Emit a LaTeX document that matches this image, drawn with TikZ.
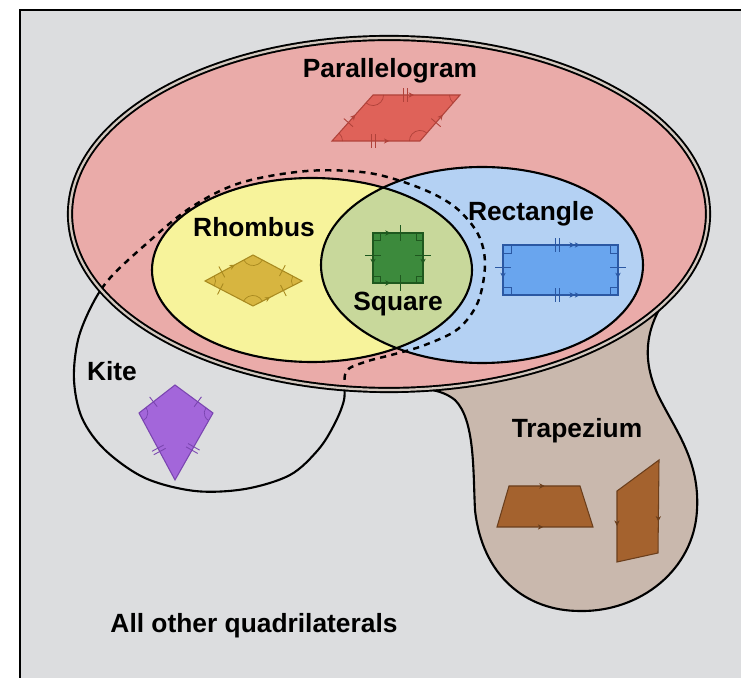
\documentclass[tikz,border=0pt]{standalone}
\usepackage{fontspec}
\setmainfont{Liberation Sans}
\usetikzlibrary{calc,angles,arrows.meta,decorations.markings}

\definecolor{panelgray}{HTML}{DCDDDF}
\definecolor{gapcol}{HTML}{D3C8BF}
\definecolor{pinkfill}{HTML}{EAABA9}
\definecolor{yellowfill}{HTML}{F7F39B}
\definecolor{bluefill}{HTML}{B4D1F3}
\definecolor{greenfill}{HTML}{C8D89B}
\definecolor{tanfill}{HTML}{C9B8AD}
\definecolor{parfill}{HTML}{DF6259}
\definecolor{parline}{HTML}{B0423A}
\definecolor{rhofill}{HTML}{D7B540}
\definecolor{rholine}{HTML}{A8891F}
\definecolor{sqfill}{HTML}{3C8A3C}
\definecolor{sqline}{HTML}{1E581E}
\definecolor{recfill}{HTML}{69A5EE}
\definecolor{recline}{HTML}{2B58A3}
\definecolor{kitefill}{HTML}{A366DA}
\definecolor{kiteline}{HTML}{7A45B0}
\definecolor{trapfill}{HTML}{A4622E}
\definecolor{trapline}{HTML}{6A3E1C}

\tikzset{
  setline/.style={draw=black,line width=1.2pt},
  lbl/.style={font=\bfseries\fontsize{15}{18}\selectfont,anchor=base,inner sep=0pt},
  shapeline/.style={line width=0.6pt},
  onetick/.style={postaction={decorate,decoration={markings,mark=at position #1 with {\draw[line width=0.5pt] (0,-3.5pt) -- (0,3.5pt);}}}},
  longtick/.style={postaction={decorate,decoration={markings,mark=at position #1 with {\draw[line width=0.5pt] (0,-4.5pt) -- (0,4.5pt);}}}},
  twotick/.style={postaction={decorate,decoration={markings,mark=at position #1 with {\draw[line width=0.5pt] (-1.1pt,-3.8pt) -- (-1.1pt,3.8pt) (1.1pt,-3.8pt) -- (1.1pt,3.8pt);}}}},
  onearr/.style={postaction={decorate,decoration={markings,mark=at position #1 with {\arrow{Stealth[length=3pt,width=3pt]}}}}},
  twoarr/.style={postaction={decorate,decoration={markings,mark=at position #1 with {\arrow{Stealth[length=3pt,width=3pt]Stealth[length=3pt,width=3pt]}}}}},
  anglemark/.style={draw,angle radius=6pt,line width=0.4pt},
}

\begin{document}
\begin{tikzpicture}[x=0.02cm,y=-0.02cm]
\useasboundingbox (0,0) rectangle (741,678);
\fill[panelgray] (20,10) rectangle (741,678); % panel
\draw[line width=1.2pt] (20,678) -- (20,10) -- (741,10); % panel edge

% trapezium region
\filldraw[fill=tanfill,setline] (665,300) .. controls (645,330) and (642,360) .. (658,395) .. controls (675,430) and (700,460) .. (697,510) .. controls (694,570) and (640,612) .. (580,611) .. controls (525,611) and (482,575) .. (475,510) .. controls (473,470) and (475,420) .. (455,400) .. controls (440,388) and (420,388) .. (400,388) -- (400,300) -- cycle;

% kite region
\draw[setline] plot[smooth cycle,tension=0.55] coordinates {(346,372) (344,400) (334,425) (318,450) (290,475) (245,489) (195,491) (145,478) (105,450) (82,418) (74,380) (78,340) (92,305) (110,278) (145,245) (190,208) (240,183) (307,171) (369,173) (420,188) (455,207) (478,234) (485,264) (478,302) (458,329) (425,345) (395,354) (365,362)};

% parallelogram, rhombus, rectangle, square regions
\fill[pinkfill] (389,214) ellipse [x radius=319,y radius=176];
\fill[yellowfill] (312,270) ellipse [x radius=160,y radius=92];
\fill[bluefill] (482,265) ellipse [x radius=161,y radius=98];
\begin{scope}
\clip (312,270) ellipse [x radius=160,y radius=92];
\fill[greenfill] (482,265) ellipse [x radius=161,y radius=98];
\end{scope}
\draw[setline] (312,270) ellipse [x radius=160,y radius=92]; % rhombus set
\draw[setline] (482,265) ellipse [x radius=161,y radius=98]; % rectangle set
\begin{scope}
\clip (389,214) ellipse [x radius=317,y radius=174];
\draw[black,line width=1.4pt,dash pattern=on 3.5pt off 3pt] plot[smooth cycle,tension=0.55] coordinates {(346,372) (344,400) (334,425) (318,450) (290,475) (245,489) (195,491) (145,478) (105,450) (82,418) (74,380) (78,340) (92,305) (110,278) (145,245) (190,208) (240,183) (307,171) (369,173) (420,188) (455,207) (478,234) (485,264) (478,302) (458,329) (425,345) (395,354) (365,362)};
\end{scope}
\draw[black,line width=1.1pt,double=gapcol,double distance=1.3pt] (389,214) ellipse [x radius=319,y radius=176]; % parallelogram set

% parallelogram
\coordinate (P1) at (332,141);
\coordinate (P2) at (373,95);
\coordinate (P3) at (460,95);
\coordinate (P4) at (420,141);
\filldraw[fill=parfill,draw=parline,shapeline] (P1) -- (P2) -- (P3) -- (P4) -- cycle;
\path[parline,twotick=0.37,onearr=0.47] (P2) -- (P3);
\path[parline,twotick=0.47,onearr=0.65] (P1) -- (P4);
\path[parline,onetick=0.4,onearr=0.57] (P1) -- (P2);
\path[parline,onetick=0.4,onearr=0.57] (P4) -- (P3);
\pic[parline,anglemark] {angle=P4--P1--P2};
\pic[parline,anglemark] {angle=P1--P2--P3};
\pic[parline,anglemark] {angle=P2--P3--P4};
\pic[parline,anglemark] {angle=P3--P4--P1};

% rhombus
\coordinate (H1) at (205,281);
\coordinate (H2) at (253,255);
\coordinate (H3) at (302,281);
\coordinate (H4) at (253,306);
\filldraw[fill=rhofill,draw=rholine,shapeline] (H1) -- (H2) -- (H3) -- (H4) -- cycle;
\path[rholine,onetick=0.35,onearr=0.62] (H1) -- (H2);
\path[rholine,onetick=0.6] (H2) -- (H3);
\path[rholine,onetick=0.32] (H1) -- (H4);
\path[rholine,onetick=0.62,onearr=0.35] (H4) -- (H3);
\pic[rholine,anglemark] {angle=H4--H1--H2};
\pic[rholine,anglemark] {angle=H1--H2--H3};
\pic[rholine,anglemark] {angle=H2--H3--H4};
\pic[rholine,anglemark] {angle=H3--H4--H1};

% square
\coordinate (S1) at (373,233);
\coordinate (S2) at (423,233);
\coordinate (S3) at (423,283);
\coordinate (S4) at (373,283);
\filldraw[fill=sqfill,draw=sqline,shapeline] (S1) -- (S2) -- (S3) -- (S4) -- cycle;
\path[sqline,longtick=0.55,onearr=0.35] (S1) -- (S2);
\path[sqline,longtick=0.55,onearr=0.35] (S4) -- (S3);
\path[sqline,longtick=0.45,onearr=0.62] (S1) -- (S4);
\path[sqline,longtick=0.45,onearr=0.62] (S2) -- (S3);
\draw[sqline,line width=0.4pt] ($(S1)+(0,7)$) -- ++(7,0) -- ++(0,-7);
\draw[sqline,line width=0.4pt] ($(S2)+(-7,0)$) -- ++(0,7) -- ++(7,0);
\draw[sqline,line width=0.4pt] ($(S3)+(-7,0)$) -- ++(0,-7) -- ++(7,0);
\draw[sqline,line width=0.4pt] ($(S4)+(0,-7)$) -- ++(7,0) -- ++(0,7);

% rectangle
\coordinate (R1) at (503,245);
\coordinate (R2) at (618,245);
\coordinate (R3) at (618,295);
\coordinate (R4) at (503,295);
\filldraw[fill=recfill,draw=recline,shapeline] (R1) -- (R2) -- (R3) -- (R4) -- cycle;
\path[recline,twotick=0.47,twoarr=0.67] (R1) -- (R2);
\path[recline,twotick=0.47,twoarr=0.67] (R4) -- (R3);
\path[recline,longtick=0.44,onearr=0.66] (R1) -- (R4);
\path[recline,longtick=0.44,onearr=0.66] (R2) -- (R3);
\draw[recline,line width=0.4pt] ($(R1)+(0,8)$) -- ++(8,0) -- ++(0,-8);
\draw[recline,line width=0.4pt] ($(R2)+(-8,0)$) -- ++(0,8) -- ++(8,0);
\draw[recline,line width=0.4pt] ($(R3)+(-8,0)$) -- ++(0,-8) -- ++(8,0);
\draw[recline,line width=0.4pt] ($(R4)+(0,-8)$) -- ++(8,0) -- ++(0,8);

% kite
\coordinate (K1) at (175,385);
\coordinate (K2) at (213,413);
\coordinate (K3) at (175,480);
\coordinate (K4) at (139,413);
\filldraw[fill=kitefill,draw=kiteline,shapeline] (K1) -- (K2) -- (K3) -- (K4) -- cycle;
\path[kiteline,onetick=0.6] (K1) -- (K4);
\path[kiteline,onetick=0.6] (K1) -- (K2);
\path[kiteline,twotick=0.55] (K4) -- (K3);
\path[kiteline,twotick=0.53] (K2) -- (K3);
\pic[kiteline,anglemark,angle radius=5pt] {angle=K1--K2--K3};
\pic[kiteline,anglemark,angle radius=5pt] {angle=K3--K4--K1};

% trapezia
\coordinate (T1) at (509,486);
\coordinate (T2) at (580,486);
\coordinate (T3) at (593,527);
\coordinate (T4) at (497,527);
\filldraw[fill=trapfill,draw=trapline,shapeline] (T1) -- (T2) -- (T3) -- (T4) -- cycle;
\path[trapline,onearr=0.5] (T1) -- (T2);
\path[trapline,onearr=0.48] (T4) -- (T3);
\coordinate (U1) at (617,491);
\coordinate (U2) at (659,460);
\coordinate (U3) at (658,553);
\coordinate (U4) at (617,562);
\filldraw[fill=trapfill,draw=trapline,shapeline] (U1) -- (U2) -- (U3) -- (U4) -- cycle;
\path[trapline,onearr=0.49] (U1) -- (U4);
\path[trapline,onearr=0.66] (U2) -- (U3);

% labels
\node[lbl] (parname) at (390,78) {Parallelogram};
\node[lbl] (rhoname) at (254,237) {Rhombus};
\node[lbl] (recname) at (531,221) {Rectangle};
\node[lbl] (sqname) at (398,311) {Square};
\node[lbl] (kitename) at (112,381) {Kite};
\node[lbl] (trapname) at (577,438) {Trapezium};
\node[lbl] (othername) at (254,633) {All other quadrilaterals};
\end{tikzpicture}
\end{document}
